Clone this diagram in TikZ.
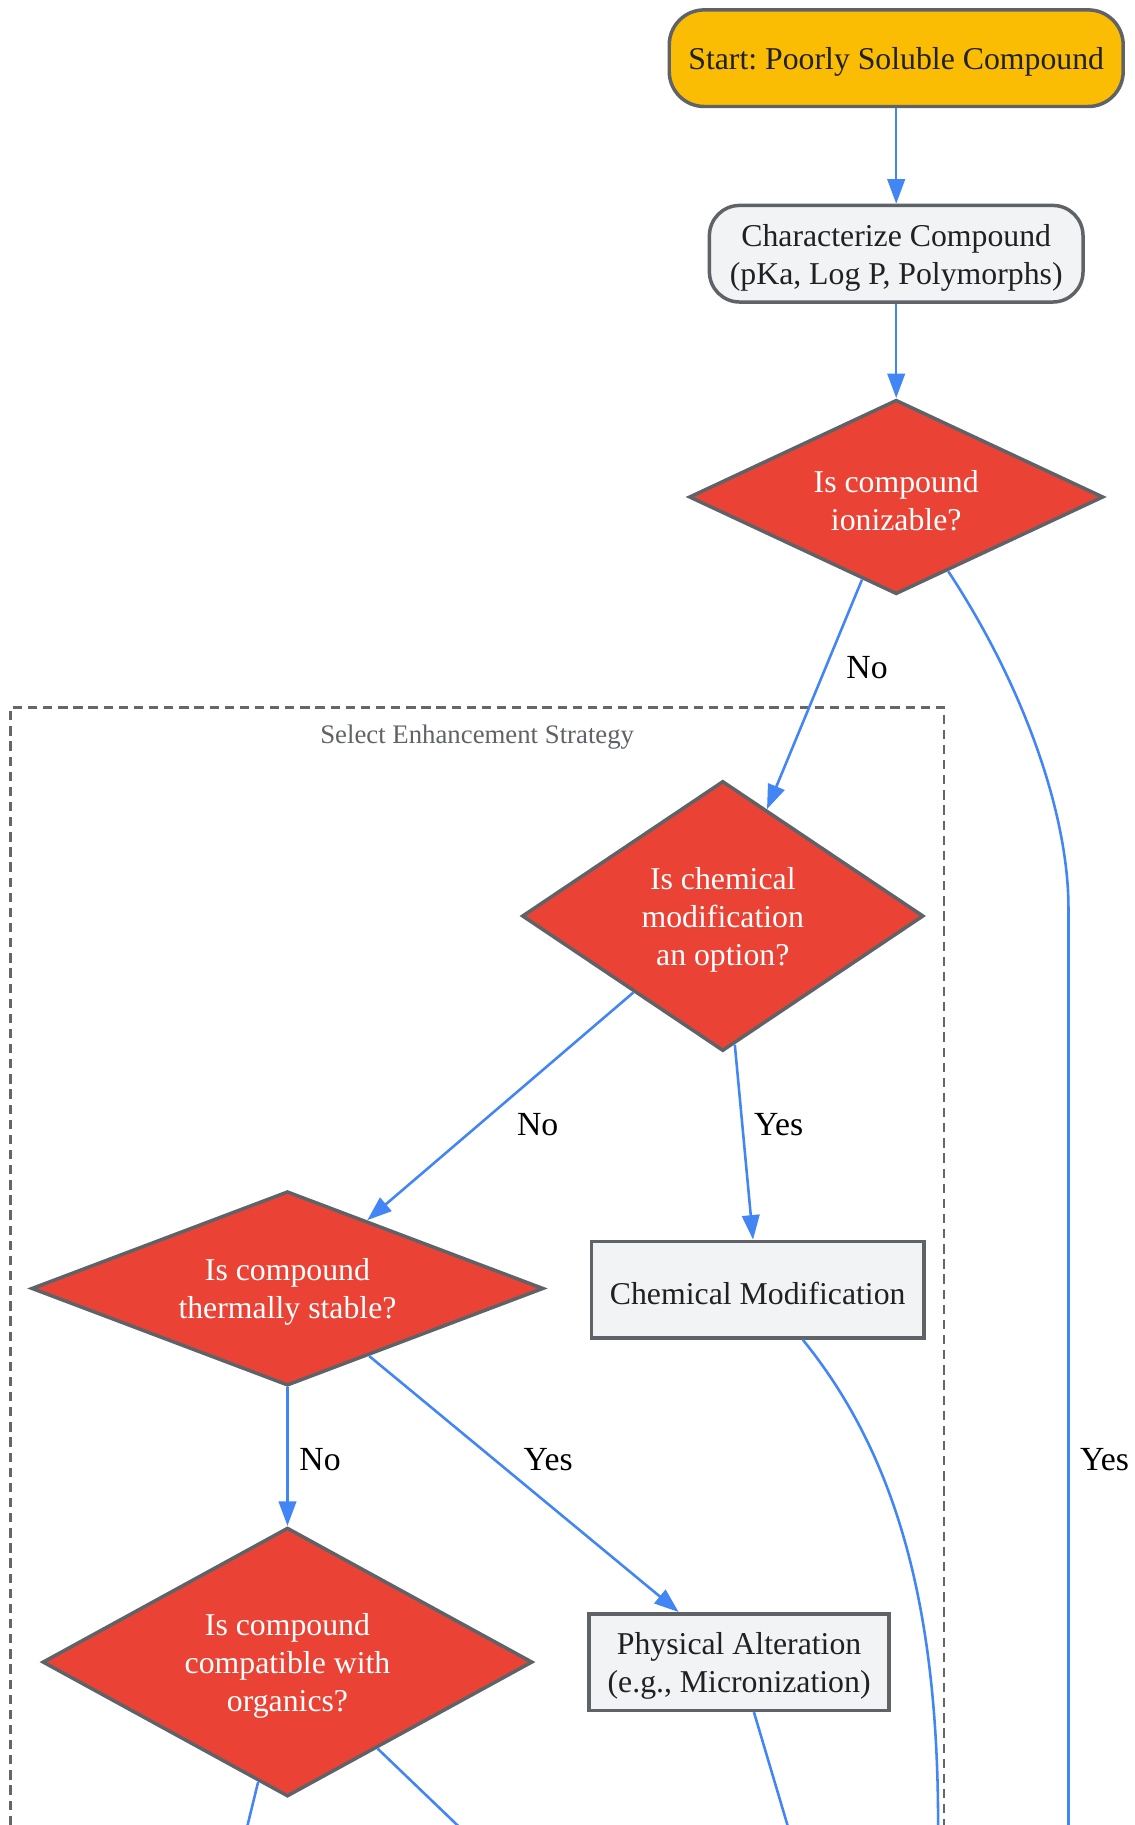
\documentclass[tikz,border=0pt]{standalone}
\usepackage{fontspec}
\setmainfont{Liberation Serif}
\frenchspacing
\usetikzlibrary{shapes.geometric,arrows.meta}
\definecolor{cyel}{HTML}{FBBC04}
\definecolor{cred}{HTML}{EA4335}
\definecolor{clight}{HTML}{F1F3F4}
\definecolor{cborder}{HTML}{5F6368}
\definecolor{cblue}{HTML}{4285F4}
\definecolor{ctext}{HTML}{202124}
\definecolor{cclus}{HTML}{666666}
\tikzset{
  nodetxt/.style={font=\fontsize{27.3}{32.5}\selectfont\frenchspacing, align=center, inner sep=0pt},
  oneline/.style={text height=25.5pt},
  twolines/.style={text height=58pt},
  threelines/.style={text height=90.5pt},
  startbox/.style={nodetxt, draw=cborder, line width=3pt, fill=cyel, text=ctext, rounded corners=30pt},
  procround/.style={nodetxt, draw=cborder, line width=3pt, fill=clight, text=ctext, rounded corners=26pt},
  procbox/.style={nodetxt, draw=cborder, line width=3pt, fill=clight, text=ctext},
  decision/.style={nodetxt, shape=diamond, draw=cborder, line width=3pt, fill=cred, text=white},
  flow/.style={draw=cblue, line width=2.2pt, -{Triangle[length=21pt,width=15pt]}},
  flowplain/.style={draw=cblue, line width=2.2pt},
  elabel/.style={font=\fontsize{29}{34}\selectfont, text=black, inner sep=0pt},
  cluster/.style={draw=cclus, line width=2pt, dash pattern=on 8pt off 5pt},
  clusterlabel/.style={font=\fontsize{23}{28}\selectfont, text=cborder, inner sep=0pt}
}
\begin{document}
\begin{tikzpicture}[x=1pt,y=-1pt]
\useasboundingbox (0,0) rectangle (975,1568);
\clip (0,0) rectangle (975,1568);
\fill[white] (0,0) rectangle (975,1568);

% cluster
\draw[cluster] (9,1620) -- (9,608) -- (811,608) -- (811,1620);
\node[clusterlabel] (cl) at (410,633) {Select Enhancement Strategy};

% nodes
\node[startbox, oneline, minimum width=390pt, minimum height=83pt] (start) at (770,50) {Start: Poorly Soluble Compound};
\node[procround, twolines, minimum width=321pt, minimum height=83pt] (char) at (770,218) {Characterize Compound\\(pKa, Log P, Polymorphs)};
\node[decision, twolines, shape aspect=2.13, minimum width=356pt, minimum height=167pt] (d1) at (770,427) {Is compound\\ionizable?};
\node[decision, threelines, shape aspect=1.49, minimum width=345pt, minimum height=232pt] (d2) at (621,787) {Is chemical\\modification\\an option?};
\node[decision, twolines, shape aspect=2.63, minimum width=440pt, minimum height=167pt] (d3) at (247,1107) {Is compound\\thermally stable?};
\node[decision, threelines, shape aspect=1.82, minimum width=421pt, minimum height=231pt] (d4) at (247,1428) {Is compound\\compatible with\\organics?};
\node[procbox, oneline, minimum width=286pt, minimum height=83pt] (chem) at (651,1108) {Chemical Modification};
\node[procbox, twolines, minimum width=258pt, minimum height=83pt] (phys) at (635,1428) {Physical Alteration\\(e.g., Micronization)};

% off-page ends
\coordinate (yesend) at (918,1620);
\coordinate (chemend) at (806,1620);
\coordinate (physend) at (692,1620);
\coordinate (d4left) at (200,1620);
\coordinate (d4right) at (447,1620);

% connectors
\draw[flow] (start) -- (char);
\draw[flow] (char) -- (d1);
\draw[flow] (d1) -- (d2);
\draw[flowplain] (d1.-55) .. controls (880,590) and (918,700) .. (918,780) -- (yesend);
\draw[flow] (d2) -- (d3);
\draw[flow] (d2) -- (chem);
\draw[flowplain] (chem.-48) .. controls (770,1250) and (806,1380) .. (806,1568) -- (chemend);
\draw[flow] (d3) -- (d4);
\draw[flow] (d3) -- (phys);
\draw[flowplain] (phys) -- (physend);
\draw[flowplain] (d4) -- (d4left);
\draw[flowplain] (d4) -- (d4right);

% edge labels
\node[elabel] (l1) at (745,574) {No};
\node[elabel] (l2) at (462,966) {No};
\node[elabel] (l3) at (669,966) {Yes};
\node[elabel] (l4) at (275,1254) {No};
\node[elabel] (l5) at (471,1254) {Yes};
\node[elabel] (l6) at (949,1254) {Yes};
\end{tikzpicture}
\end{document}
